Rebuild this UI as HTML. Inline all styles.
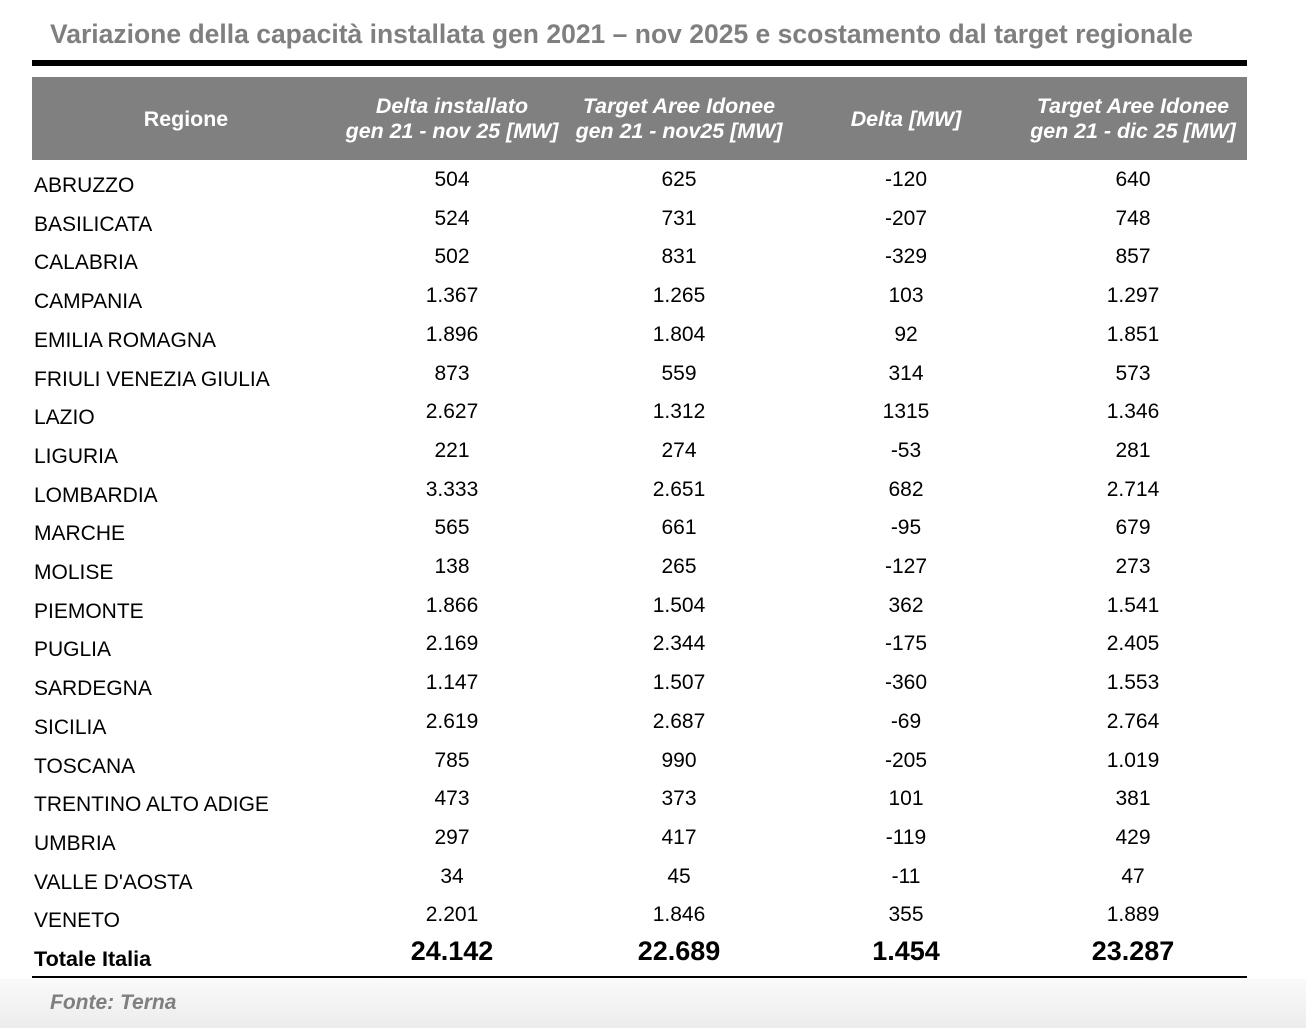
<!DOCTYPE html>
<html><head><style>
body{margin:0;width:1306px;height:1028px;background:#fff;font-family:"Liberation Sans",sans-serif;position:relative;overflow:hidden}
.a{position:absolute;white-space:nowrap}
.t{left:50px;top:19px;font-size:26.5px;font-weight:bold;color:#7f7f7f}
.hd{position:absolute;left:32px;top:77px;width:1215px;height:83px;background:#808080}
.h{position:absolute;color:#fff;font-weight:bold;font-style:italic;font-size:21.4px;text-align:center;line-height:25px;width:260px;top:94px;transform:translateX(-50%)}
.n{position:absolute;left:34px;font-size:21px;color:#000}
.v{position:absolute;font-size:21px;width:200px;text-align:center;transform:translateX(-50%)}
.foot{position:absolute;left:0;top:979px;width:1306px;height:49px;background:linear-gradient(#fafafa,#ececec)}
</style></head><body>
<div class="a t">Variazione della capacità installata gen 2021 – nov 2025 e scostamento dal target regionale</div>
<div style="position:absolute;left:32px;top:60px;width:1215px;height:6px;background:#000"></div>
<div class="hd"></div>
<div class="h" style="left:186px;top:107px;font-style:normal">Regione</div>
<div class="h" style="left:452px">Delta installato<br>gen 21 - nov 25 [MW]</div>
<div class="h" style="left:679px">Target Aree Idonee<br>gen 21 - nov25 [MW]</div>
<div class="h" style="left:906px;top:107px">Delta [MW]</div>
<div class="h" style="left:1133px">Target Aree Idonee<br>gen 21 - dic 25 [MW]</div>
<div id="rows"></div>
<div class="foot"></div>
<div style="position:absolute;left:32px;top:976px;width:1215px;height:2px;background:#000"></div>
<div class="a" style="left:50px;top:991px;font-size:21px;font-weight:bold;font-style:italic;color:#7f7f7f">Fonte: Terna</div>
<script>
var d=[["ABRUZZO","504","625","-120","640"],["BASILICATA","524","731","-207","748"],["CALABRIA","502","831","-329","857"],["CAMPANIA","1.367","1.265","103","1.297"],["EMILIA ROMAGNA","1.896","1.804","92","1.851"],["FRIULI VENEZIA GIULIA","873","559","314","573"],["LAZIO","2.627","1.312","1315","1.346"],["LIGURIA","221","274","-53","281"],["LOMBARDIA","3.333","2.651","682","2.714"],["MARCHE","565","661","-95","679"],["MOLISE","138","265","-127","273"],["PIEMONTE","1.866","1.504","362","1.541"],["PUGLIA","2.169","2.344","-175","2.405"],["SARDEGNA","1.147","1.507","-360","1.553"],["SICILIA","2.619","2.687","-69","2.764"],["TOSCANA","785","990","-205","1.019"],["TRENTINO ALTO ADIGE","473","373","101","381"],["UMBRIA","297","417","-119","429"],["VALLE D'AOSTA","34","45","-11","47"],["VENETO","2.201","1.846","355","1.889"]];
var xs=[452,679,906,1133],h="";
d.forEach(function(r,i){var y=180+i*38.7;
h+='<div class="n" style="top:'+(y-6)+'px">'+r[0]+'</div>';
for(var j=0;j<4;j++)h+='<div class="v" style="left:'+xs[j]+'px;top:'+(y-12)+'px">'+r[j+1]+'</div>';});
h+='<div class="n" style="top:946px;font-weight:bold;font-size:21.6px">Totale Italia</div>';
["24.142","22.689","1.454","23.287"].forEach(function(t,j){h+='<div class="v" style="left:'+xs[j]+'px;top:936px;font-size:27px;font-weight:bold">'+t+'</div>';});
document.getElementById("rows").innerHTML=h;
</script>
</body></html>
